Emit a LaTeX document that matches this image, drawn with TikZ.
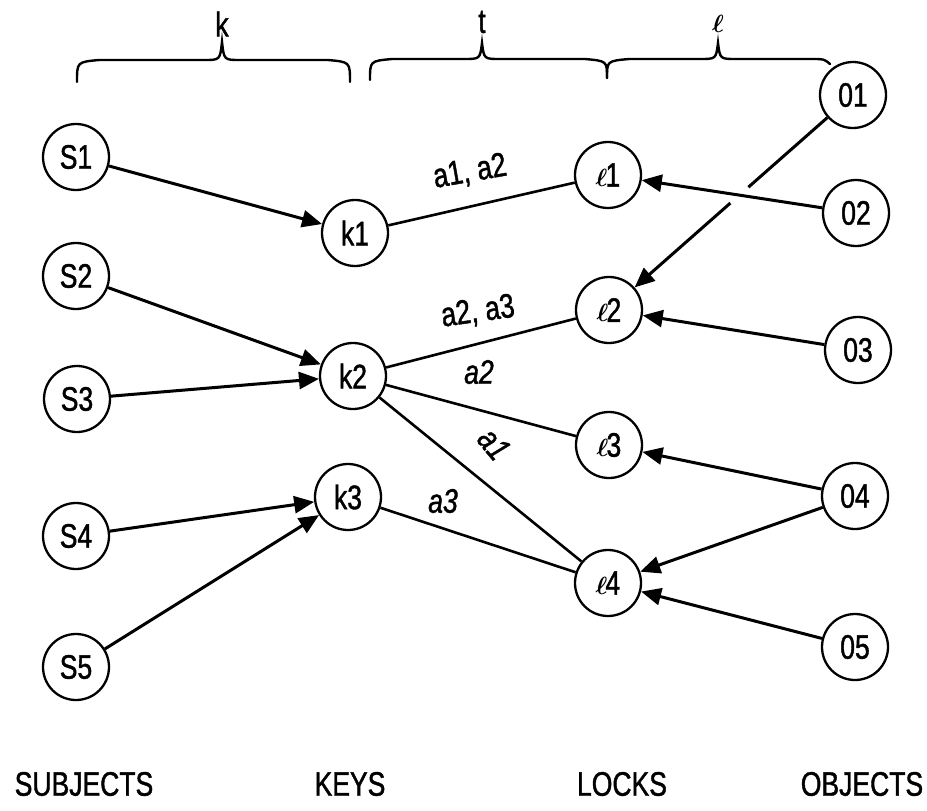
\documentclass[tikz,border=0pt]{standalone}
\usepackage{fontspec}
\usepackage{bm}
\setmainfont{Liberation Sans}[FakeStretch=0.78,FakeBold=1.2]
\usetikzlibrary{arrows.meta}
\newcommand{\lk}{{\fontsize{42}{42}\selectfont$\bm\ell$}}
\begin{document}
\begin{tikzpicture}[x=1pt,y=-1pt,
  every node/.style={font=\fontsize{34}{38}\selectfont},
  vtx/.style={draw, circle, line width=2.3pt, minimum size=66pt, inner sep=0pt},
  arr/.style={line width=3pt, -{Triangle[length=20pt,width=17pt]}},
  lnk/.style={line width=2.6pt},
  brc/.style={line width=2.4pt, line cap=round},
  lbl/.style={inner sep=1pt}]
\useasboundingbox (0,0) rectangle (927,811);
% subjects
\node[vtx] (S1) at (76,157) {S1};
\node[vtx] (S2) at (76,276) {S2};
\node[vtx] (S3) at (77,399) {S3};
\node[vtx] (S4) at (76,536) {S4};
\node[vtx] (S5) at (76,667) {S5};
% keys
\node[vtx] (k1) at (355,233) {k1};
\node[vtx] (k2) at (353,376) {k2};
\node[vtx] (k3) at (348,497) {k3};
% locks
\node[vtx] (l1) at (608,175) {\lk\kern-2pt1};
\node[vtx] (l2) at (609,310) {\lk\kern-2pt2};
\node[vtx] (l3) at (609,445) {\lk\kern-2pt3};
\node[vtx] (l4) at (608,583) {\lk\kern-2pt4};
% objects
\node[vtx] (O1) at (853,95) {01};
\node[vtx] (O2) at (856,213) {02};
\node[vtx] (O3) at (858,350) {03};
\node[vtx] (O4) at (855,496) {04};
\node[vtx] (O5) at (855,647) {05};
% subject -> key
\draw[arr] (S1) -- (k1);
\draw[arr] (S2) -- (k2);
\draw[arr] (S3) -- (k2);
\draw[arr] (S4) -- (k3);
\draw[arr] (S5) -- (k3);
% key -- lock
\draw[lnk] (k1) -- (l1);
\draw[lnk] (k2) -- (l2);
\draw[lnk] (k2) -- (l3);
\draw[lnk] (k2) -- (l4);
\draw[lnk] (k3) -- (l4);
% object -> lock
\draw[arr] (O1) -- (l2);
\fill[white] (intersection of O1--l2 and O2--l1) circle (12);
\draw[arr] (O2) -- (l1);
\draw[arr] (O3) -- (l2);
\draw[arr] (O4) -- (l3);
\draw[arr] (O4) -- (l4);
\draw[arr] (O5) -- (l4);
% edge labels
\node[lbl, rotate=10] (e1) at (470,172) {a1, a2};
\node[lbl, rotate=8] (e2) at (478,312) {a2, a3};
\node[lbl] (e3) at (479,372) {\itshape a2};
\node[lbl, rotate=-50] (e4) at (494,444) {\itshape a1};
\node[lbl] (e5) at (443,501) {\itshape a3};
% braces
\draw[brc] (77,82) .. controls (77,62) .. (99,60) -- (204,60) .. controls (220,60) .. (222,42) .. controls (224,60) .. (240,60) -- (328,60) .. controls (350,62) .. (350,82);
\draw[brc] (370,80) .. controls (370,61) .. (392,59) -- (464,59) .. controls (480,59) .. (482,43) .. controls (484,59) .. (500,59) -- (585,59) .. controls (607,61) .. (607,78);
\draw[brc] (607,78) .. controls (607,61) .. (629,59) -- (700,59) .. controls (716,59) .. (718,43) .. controls (720,59) .. (736,59) -- (812,59) .. controls (824,59) .. (830,64);
\node (bk) at (222,24) {k};
\node (bt) at (482,22) {t};
\node (bl) at (718,24) {\lk};
% column titles
\node (sub) at (84,784) {SUBJECTS};
\node (key) at (350,784) {KEYS};
\node (lck) at (622,784) {LOCKS};
\node (obj) at (862,784) {OBJECTS};
\end{tikzpicture}
\end{document}
